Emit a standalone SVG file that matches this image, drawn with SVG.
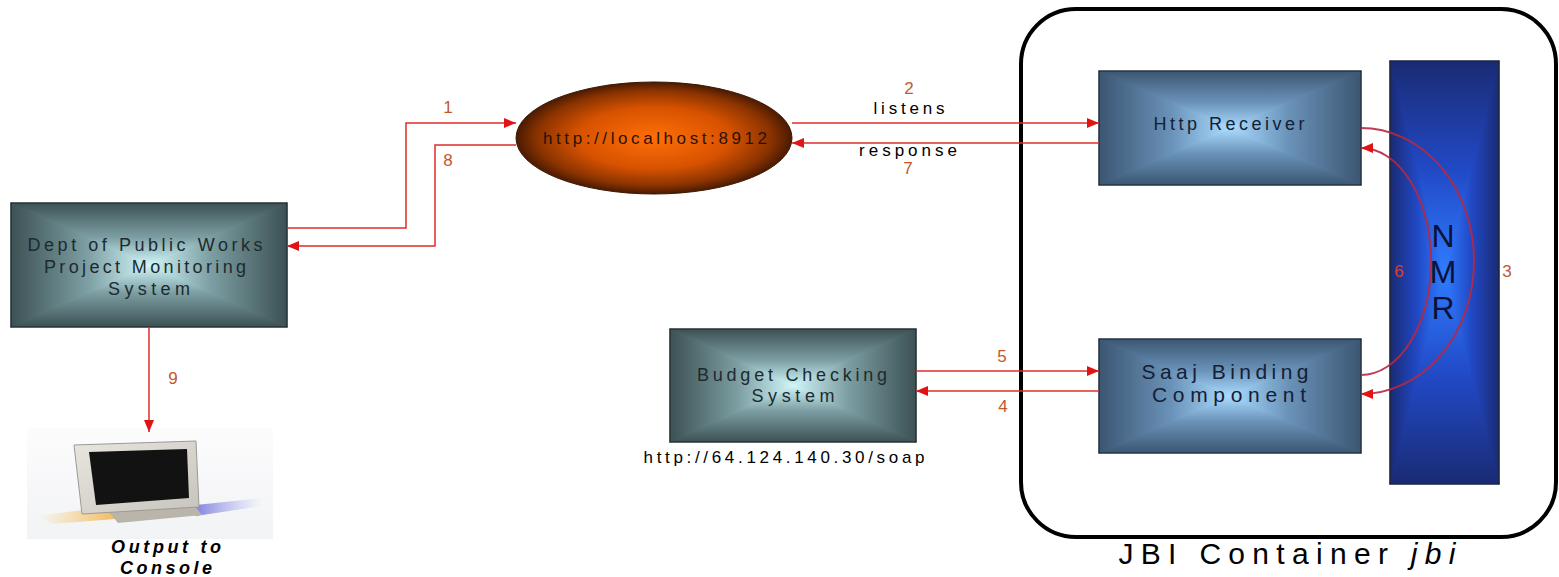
<svg xmlns="http://www.w3.org/2000/svg" width="1559" height="577" viewBox="0 0 1559 577">
  <style>
    .lbl { font-family: "Liberation Sans", Arial, sans-serif; fill: #1e2a30; text-anchor: middle; }
    .num { font-family: "Liberation Sans", Arial, sans-serif; font-size: 17px; fill: #c0582e; text-anchor: middle; }
    .edge { stroke: #1c2226; stroke-width: 1; }
    .wire { fill: none; stroke: #e02c2c; stroke-width: 1.5; }
    .loop { fill: none; stroke: #b82840; stroke-width: 2; stroke-opacity: 0.9; }
    .shade polygon { stroke-width: 1.2; stroke-linejoin: round; }
  </style>
  <defs>
    <!-- rectangular "from centre" shading: four triangles, dark edge to light centre -->
    <linearGradient id="tealT" x1="0" y1="0" x2="0" y2="1">
      <stop offset="0" stop-color="#3c5154"/>
      <stop offset="0.55" stop-color="#7c9ea2"/>
      <stop offset="1" stop-color="#d0f6f8"/>
    </linearGradient>
    <linearGradient id="tealB" href="#tealT" x1="0" y1="1" x2="0" y2="0"/>
    <linearGradient id="tealL" href="#tealT" x1="0" y1="0" x2="1" y2="0"/>
    <linearGradient id="tealR" href="#tealT" x1="1" y1="0" x2="0" y2="0"/>

    <linearGradient id="steelT" x1="0" y1="0" x2="0" y2="1">
      <stop offset="0" stop-color="#3b5672"/>
      <stop offset="0.55" stop-color="#6a92b8"/>
      <stop offset="1" stop-color="#aadcff"/>
    </linearGradient>
    <linearGradient id="steelB" href="#steelT" x1="0" y1="1" x2="0" y2="0"/>
    <linearGradient id="steelL" href="#steelT" x1="0" y1="0" x2="1" y2="0"/>
    <linearGradient id="steelR" href="#steelT" x1="1" y1="0" x2="0" y2="0"/>

    <linearGradient id="navyT" x1="0" y1="0" x2="0" y2="1">
      <stop offset="0" stop-color="#1a2b74"/>
      <stop offset="0.5" stop-color="#2148c4"/>
      <stop offset="1" stop-color="#2f7cff"/>
    </linearGradient>
    <linearGradient id="navyB" href="#navyT" x1="0" y1="1" x2="0" y2="0"/>
    <linearGradient id="navyL" href="#navyT" x1="0" y1="0" x2="1" y2="0"/>
    <linearGradient id="navyR" href="#navyT" x1="1" y1="0" x2="0" y2="0"/>

    <radialGradient id="orb" cx="0.5" cy="0.5" r="0.5">
      <stop offset="0" stop-color="#ff6f08"/>
      <stop offset="0.55" stop-color="#d75200"/>
      <stop offset="0.85" stop-color="#8a3300"/>
      <stop offset="1" stop-color="#4a1a02"/>
    </radialGradient>

    <linearGradient id="panel" x1="0" y1="0" x2="0" y2="1">
      <stop offset="0" stop-color="#fcfcfd"/>
      <stop offset="1" stop-color="#f2f3f5"/>
    </linearGradient>
    <linearGradient id="bezel" x1="0" y1="0" x2="1" y2="1">
      <stop offset="0" stop-color="#e8e6de"/>
      <stop offset="1" stop-color="#c6c4bc"/>
    </linearGradient>
    <linearGradient id="shadowWarm" x1="0" y1="0" x2="1" y2="0">
      <stop offset="0" stop-color="#f6c060" stop-opacity="0"/>
      <stop offset="1" stop-color="#f0b040"/>
    </linearGradient>
    <linearGradient id="shadowCool" x1="0" y1="0" x2="1" y2="0">
      <stop offset="0" stop-color="#7068d8"/>
      <stop offset="1" stop-color="#9aa8f0" stop-opacity="0"/>
    </linearGradient>

    <marker id="head" viewBox="0 0 12 10" refX="12" refY="5" markerWidth="12" markerHeight="10" markerUnits="userSpaceOnUse" orient="auto">
      <path d="M0,0 L12,5 L0,10 Z" fill="#e01414"/>
    </marker>
  </defs>

  <!-- JBI container -->
  <g id="jbi-container">
    <rect x="1021" y="9" width="535" height="528" rx="55" ry="55" fill="none" stroke="#000" stroke-width="4"/>
    <text class="lbl" x="1287" y="564" font-size="30" textLength="337" lengthAdjust="spacing" style="fill:#000">JBI Container <tspan font-style="italic">jbi</tspan></text>
  </g>

  <!-- Dept of Public Works -->
  <g id="dept">
    <g class="shade">
      <polygon points="11,203 287,203 149,265" fill="url(#tealT)" stroke="url(#tealT)"/>
      <polygon points="11,327 287,327 149,265" fill="url(#tealB)" stroke="url(#tealB)"/>
      <polygon points="11,203 11,327 149,265" fill="url(#tealL)" stroke="url(#tealL)"/>
      <polygon points="287,203 287,327 149,265" fill="url(#tealR)" stroke="url(#tealR)"/>
    </g>
    <rect x="11" y="203" width="276" height="124" fill="none" class="edge"/>
    <text class="lbl" x="145" y="251" font-size="18" textLength="235" lengthAdjust="spacing">Dept of Public Works</text>
    <text class="lbl" x="145" y="273" font-size="18" textLength="202" lengthAdjust="spacing">Project Monitoring</text>
    <text class="lbl" x="149" y="295" font-size="18" textLength="82" lengthAdjust="spacing">System</text>
  </g>

  <!-- console output -->
  <g id="console">
    <rect x="27" y="428" width="246" height="111" fill="url(#panel)"/>
    <polygon points="38,516 112,506 128,518 52,524" fill="url(#shadowWarm)"/>
    <polygon points="186,506 262,498 262,506 196,516" fill="url(#shadowCool)"/>
    <polygon points="108,511 194,505 202,515 118,523" fill="#b9b5aa"/>
    <polygon points="74,445 196,441 199,507 82,514" fill="url(#bezel)" stroke="#9c9a94" stroke-width="1"/>
    <polygon points="89,452 187,449 189,498 96,505" fill="#121212"/>
    <text x="166" y="553" font-family="'Liberation Sans', Arial, sans-serif" font-size="18" font-weight="bold" font-style="italic" fill="#000" text-anchor="middle" textLength="110" lengthAdjust="spacing">Output to</text>
    <text x="166" y="574" font-family="'Liberation Sans', Arial, sans-serif" font-size="18" font-weight="bold" font-style="italic" fill="#000" text-anchor="middle" textLength="92" lengthAdjust="spacing">Console</text>
  </g>

  <!-- http://localhost:8912 endpoint -->
  <g id="localhost">
    <ellipse cx="654" cy="138" rx="138" ry="56" fill="url(#orb)" stroke="#3a1804" stroke-width="1"/>
    <text class="lbl" x="655" y="144" font-size="17" textLength="224" lengthAdjust="spacing" style="fill:#2a1208">http://localhost:8912</text>
  </g>

  <!-- Budget Checking System -->
  <g id="budget">
    <g class="shade">
      <polygon points="670,329 916,329 793,385.5" fill="url(#tealT)" stroke="url(#tealT)"/>
      <polygon points="670,442 916,442 793,385.5" fill="url(#tealB)" stroke="url(#tealB)"/>
      <polygon points="670,329 670,442 793,385.5" fill="url(#tealL)" stroke="url(#tealL)"/>
      <polygon points="916,329 916,442 793,385.5" fill="url(#tealR)" stroke="url(#tealR)"/>
    </g>
    <rect x="670" y="329" width="246" height="113" fill="none" class="edge"/>
    <text class="lbl" x="792" y="381" font-size="18" textLength="190" lengthAdjust="spacing">Budget Checking</text>
    <text class="lbl" x="793" y="402" font-size="18" textLength="83" lengthAdjust="spacing">System</text>
    <text class="lbl" x="784" y="463" font-size="17" textLength="281" lengthAdjust="spacing" style="fill:#000">http://64.124.140.30/soap</text>
  </g>

  <!-- Http Receiver -->
  <g id="http-receiver">
    <g class="shade">
      <polygon points="1099,71 1361,71 1230,128" fill="url(#steelT)" stroke="url(#steelT)"/>
      <polygon points="1099,185 1361,185 1230,128" fill="url(#steelB)" stroke="url(#steelB)"/>
      <polygon points="1099,71 1099,185 1230,128" fill="url(#steelL)" stroke="url(#steelL)"/>
      <polygon points="1361,71 1361,185 1230,128" fill="url(#steelR)" stroke="url(#steelR)"/>
    </g>
    <rect x="1099" y="71" width="262" height="114" fill="none" class="edge"/>
    <text class="lbl" x="1229" y="130" font-size="18" textLength="151" lengthAdjust="spacing" style="fill:#142034">Http Receiver</text>
  </g>

  <!-- Saaj Binding Component -->
  <g id="saaj">
    <g class="shade">
      <polygon points="1099,339 1361,339 1230,396" fill="url(#steelT)" stroke="url(#steelT)"/>
      <polygon points="1099,453 1361,453 1230,396" fill="url(#steelB)" stroke="url(#steelB)"/>
      <polygon points="1099,339 1099,453 1230,396" fill="url(#steelL)" stroke="url(#steelL)"/>
      <polygon points="1361,339 1361,453 1230,396" fill="url(#steelR)" stroke="url(#steelR)"/>
    </g>
    <rect x="1099" y="339" width="262" height="114" fill="none" class="edge"/>
    <text class="lbl" x="1225" y="379" font-size="21" textLength="167" lengthAdjust="spacing" style="fill:#142034">Saaj Binding</text>
    <text class="lbl" x="1229" y="402" font-size="21" textLength="154" lengthAdjust="spacing" style="fill:#142034">Component</text>
  </g>

  <!-- NMR bus -->
  <g id="nmr">
    <g class="shade">
      <polygon points="1390,61 1499,61 1444.5,272.5" fill="url(#navyT)" stroke="url(#navyT)"/>
      <polygon points="1390,484 1499,484 1444.5,272.5" fill="url(#navyB)" stroke="url(#navyB)"/>
      <polygon points="1390,61 1390,484 1444.5,272.5" fill="url(#navyL)" stroke="url(#navyL)"/>
      <polygon points="1499,61 1499,484 1444.5,272.5" fill="url(#navyR)" stroke="url(#navyR)"/>
    </g>
    <rect x="1390" y="61" width="109" height="423" fill="none" class="edge"/>
    <text class="lbl" x="1443" y="247" font-size="32" style="fill:#0a1238">N</text>
    <text class="lbl" x="1443" y="283" font-size="32" style="fill:#0a1238">M</text>
    <text class="lbl" x="1443" y="319" font-size="32" style="fill:#0a1238">R</text>
  </g>

  <!-- message flow -->
  <g id="connectors">
    <path class="wire" d="M287,228 H406 V123 H516" marker-end="url(#head)"/>
    <path class="wire" d="M516,145 H435 V246 H287" marker-end="url(#head)"/>
    <path class="wire" d="M792,123 H1099" marker-end="url(#head)"/>
    <path class="wire" d="M1099,143 H792" marker-end="url(#head)"/>
    <path class="wire" d="M916,371 H1099" marker-end="url(#head)"/>
    <path class="wire" d="M1099,391 H916" marker-end="url(#head)"/>
    <path class="wire" d="M149,327 V432" marker-end="url(#head)"/>
    <path class="loop" d="M1361,128 A113,133 0 0 1 1361,394" marker-end="url(#head)"/>
    <path class="loop" d="M1361,375 A70,113.5 0 0 0 1361,148" marker-end="url(#head)"/>

    <text class="num" x="448" y="113">1</text>
    <text class="num" x="909" y="94">2</text>
    <text class="lbl" x="909" y="114" font-size="17" textLength="71" lengthAdjust="spacing" style="fill:#000">listens</text>
    <text class="num" x="1507" y="277">3</text>
    <text class="num" x="1003" y="412">4</text>
    <text class="num" x="1002" y="362">5</text>
    <text class="num" x="1399" y="277" style="fill:#d8402c">6</text>
    <text class="lbl" x="908" y="156" font-size="17" textLength="98" lengthAdjust="spacing" style="fill:#000">response</text>
    <text class="num" x="908" y="174">7</text>
    <text class="num" x="448" y="166">8</text>
    <text class="num" x="173" y="384">9</text>
  </g>
</svg>
